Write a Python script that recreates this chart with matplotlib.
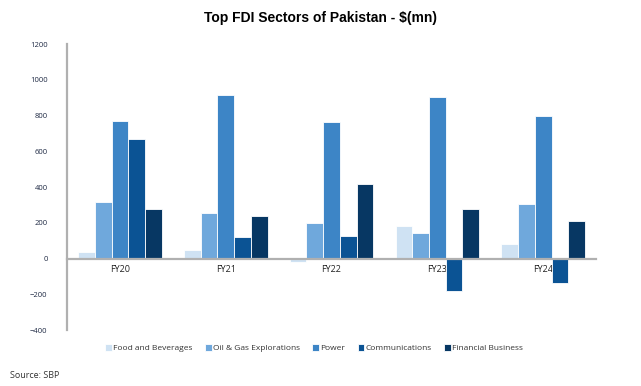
import matplotlib

matplotlib.use("Agg")

import matplotlib.pyplot as plt
import numpy as np

years = ["FY20", "FY21", "FY22", "FY23", "FY24"]
sectors = [
    "Food and Beverages",
    "Oil & Gas Explorations",
    "Power",
    "Communications",
    "Financial Business",
]
food = [37, 45, -22, 180, 82]
oil_gas = [314, 255, 199, 142, 307]
power = [767, 913, 763, 901, 800]
communications = [670, 120, 127, -183, -135]
financial = [277, 240, 419, 277, 210]

colors = ["#cfe2f3", "#6fa8dc", "#3d85c6", "#0b5394", "#073763"]

series = [food, oil_gas, power, communications, financial]

fig = plt.figure(figsize=(6.41, 3.86), dpi=100)
ax = fig.add_axes([0.1045, 0.145, 0.8255, 0.741])

x = np.arange(len(years))
width = 0.158
for i, (name, vals) in enumerate(zip(sectors, series)):
    offset = (i - 2) * width
    ax.bar(x + offset, vals, width, color=colors[i], label=name,
           edgecolor="white", linewidth=0.6, zorder=3)

ax.set_xlim(-0.5, len(years) - 0.5)
ax.set_ylim(-400, 1200)
ax.set_yticks(range(-400, 1201, 200))
ax.set_xticks(x)
ax.set_xticklabels(years)

ax.spines["top"].set_visible(False)
ax.spines["right"].set_visible(False)
ax.spines["bottom"].set_position(("data", 0))
ax.spines["bottom"].set_color("#b0b0b0")
ax.spines["bottom"].set_linewidth(1.6)
ax.spines["bottom"].set_zorder(4)
ax.spines["left"].set_color("#b0b0b0")
ax.spines["left"].set_linewidth(1.6)
ax.tick_params(axis="both", length=0)
ax.tick_params(axis="x", pad=5, labelsize=6.5, labelcolor="#222222")
ax.tick_params(axis="y", pad=14, labelsize=5.5, labelcolor="#1f2a44")
for lbl in ax.get_xticklabels() + ax.get_yticklabels():
    lbl.set_fontfamily("Open Sans")

fig.text(0.5, 0.953, "Top FDI Sectors of Pakistan - $(mn)", ha="center",
         va="center", fontsize=10, fontweight="bold", fontfamily="Liberation Sans")
fig.text(0.016, 0.026, "Source: SBP", ha="left", va="center",
         fontsize=6.5, fontfamily="Open Sans", color="#333333")

leg = fig.legend(loc="center", bbox_to_anchor=(0.49, 0.098), ncol=5,
                 frameon=False, handlelength=0.8, handleheight=0.8,
                 handletextpad=0.15, columnspacing=1.5,
                 prop={"family": "Open Sans", "size": 6.0})
for t in leg.get_texts():
    t.set_color("#333333")

fig.savefig("out.png", dpi=100)
